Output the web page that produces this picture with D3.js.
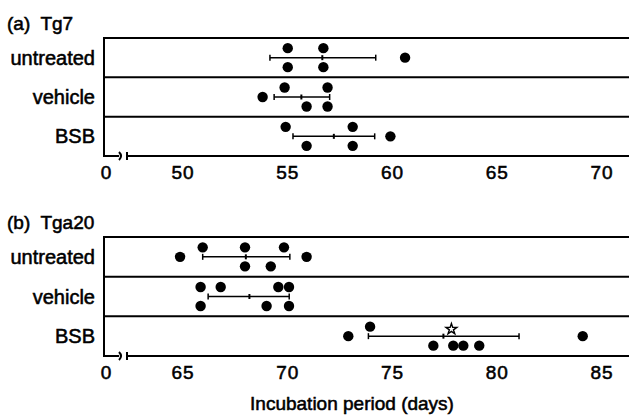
<!DOCTYPE html>
<html lang="en">
<head>
    <meta charset="UTF-8">
    <title>Incubation period</title>
    <style>
        body, html {
            margin: 0;
            background-color: #ffffff;
        }
        svg text {
            font-family: "Liberation Sans", Arial, sans-serif;
            fill: #000;
            stroke: #000;
            stroke-width: 0.55px;
        }
    </style>
    <script src="https://d3js.org/d3.v7.min.js"></script>
</head>
<body>
    <div id="chart"></div>
    <script>
        // categories
        const groups = ["untreated", "vehicle", "BSB"];

        // (a) Tg7 incubation periods, days
        const tg7Untreated = [55.0, 55.0, 56.7, 56.7, 60.6];
        const tg7Vehicle = [53.8, 54.85, 55.9, 56.9, 56.9];
        const tg7BSB = [54.9, 55.9, 58.1, 58.1, 59.9];
        const tg7Mean = [56.65, 55.65, 57.2];
        const tg7Low = [54.15, 54.35, 55.25];
        const tg7High = [59.2, 57.0, 59.15];
        const tg7Star = [false, false, false];
        const tg7Ticks = [50, 55, 60, 65, 70];

        // (b) Tga20 incubation periods, days
        const tga20Untreated = [64.86, 65.94, 67.96, 67.96, 69.19, 69.82, 70.9];
        const tga20Vehicle = [65.84, 65.84, 66.8, 68.99, 69.55, 70.06, 70.06];
        const tga20BSB = [72.89, 73.93, 76.95, 77.9, 78.38, 79.14, 84.08];
        const tga20Mean = [68.0, 68.17, 77.43];
        const tga20Low = [65.94, 66.2, 73.85];
        const tga20High = [70.1, 70.07, 81.04];
        const tga20Star = [false, false, true];
        const tga20Ticks = [65, 70, 75, 80, 85];

        const width = 629, height = 417;
        const left = 104, right = 629;
        const r = 5.2, lane = 9.5;

        const svg = d3.select("#chart").append("svg")
            .attr("width", width)
            .attr("height", height);

        function drawPanel(opt) {
            const g = svg.append("g");
            const x = d3.scaleLinear().domain(opt.domain).range([183, 602]);
            const y = d3.scaleBand().domain(groups).range([opt.top, opt.bottom]);

            g.append("text")
                .attr("x", 7)
                .attr("y", opt.top - 8)
                .style("font-size", "19px")
                .style("white-space", "pre")
                .text(opt.title);

            // frame: top line, row separators, left edge
            const rules = [opt.top].concat(groups.slice(1).map(d => y(d)));
            g.selectAll(".rule").data(rules).enter().append("line")
                .attr("x1", left).attr("x2", right)
                .attr("y1", d => d).attr("y2", d => d)
                .attr("stroke", "#000").attr("stroke-width", 2);
            g.append("line")
                .attr("x1", left).attr("x2", left)
                .attr("y1", opt.top - 1).attr("y2", opt.bottom + 1)
                .attr("stroke", "#000").attr("stroke-width", 2);

            // broken axis
            g.append("line")
                .attr("x1", left - 1).attr("x2", 119)
                .attr("y1", opt.bottom).attr("y2", opt.bottom)
                .attr("stroke", "#000").attr("stroke-width", 2);
            g.append("path")
                .attr("d", `M119,${opt.bottom - 4} Q123,${opt.bottom} 119,${opt.bottom + 4}`)
                .attr("fill", "none").attr("stroke", "#000").attr("stroke-width", 2);
            g.append("line")
                .attr("x1", 127).attr("x2", 127)
                .attr("y1", opt.bottom - 4).attr("y2", opt.bottom + 4)
                .attr("stroke", "#000").attr("stroke-width", 2);
            g.append("line")
                .attr("x1", 127).attr("x2", right)
                .attr("y1", opt.bottom).attr("y2", opt.bottom)
                .attr("stroke", "#000").attr("stroke-width", 2);

            // tick labels
            g.append("text")
                .attr("x", 106).attr("y", opt.bottom + 23)
                .attr("text-anchor", "middle")
                .style("font-size", "19px")
                .text("0");
            g.selectAll(".tick").data(opt.ticks).enter().append("text")
                .attr("x", d => x(d)).attr("y", opt.bottom + 23)
                .attr("text-anchor", "middle")
                .style("font-size", "19px")
                .style("letter-spacing", "1px")
                .text(d => d);

            // category labels
            g.selectAll(".cat").data(groups).enter().append("text")
                .attr("x", 95)
                .attr("y", d => y(d) + y.bandwidth() / 2 + 7)
                .attr("text-anchor", "end")
                .style("font-size", "20px")
                .text(d => d);

            groups.forEach((grp, i) => {
                const cy = y(grp) + y.bandwidth() / 2;
                const lo = x(opt.low[i]), hi = x(opt.high[i]), m = x(opt.mean[i]);

                // error bar with caps and mean mark
                g.append("line")
                    .attr("x1", lo).attr("x2", hi).attr("y1", cy).attr("y2", cy)
                    .attr("stroke", "#000").attr("stroke-width", 1.5);
                g.selectAll(null).data([lo, hi]).enter().append("line")
                    .attr("x1", d => d).attr("x2", d => d)
                    .attr("y1", cy - 3).attr("y2", cy + 3)
                    .attr("stroke", "#000").attr("stroke-width", 1.5);
                g.append("line")
                    .attr("x1", m).attr("x2", m).attr("y1", cy - 2.5).attr("y2", cy + 2.5)
                    .attr("stroke", "#000").attr("stroke-width", 2);

                const starX = m + 8;
                if (opt.star[i]) {
                    g.append("path")
                        .attr("d", d3.symbol(d3.symbolStar, 36)())
                        .attr("transform", `translate(${starX},${cy - 7})`)
                        .attr("fill", "#fff").attr("stroke", "#000").attr("stroke-width", 1.4);
                }

                // dots: outside the bar sit on it, inside alternate above/below
                const vals = opt.values[i].slice().sort(d3.ascending);
                let k = 0;
                const pts = vals.map(v => {
                    const px = x(v);
                    let off = 0;
                    if (px >= lo - 9 && px <= hi + 9) {
                        if (opt.star[i] && Math.abs(px - starX) < 32) off = lane;
                        else off = (k++ % 2 === 0) ? -lane : lane;
                    }
                    return { px, cy: cy + off };
                });
                g.selectAll(null).data(pts).enter().append("circle")
                    .attr("cx", d => d.px).attr("cy", d => d.cy).attr("r", r)
                    .attr("fill", "#000");
            });
        }

        drawPanel({
            title: "(a)  Tg7", top: 38, bottom: 156, domain: [50, 70], ticks: tg7Ticks,
            values: [tg7Untreated, tg7Vehicle, tg7BSB],
            mean: tg7Mean, low: tg7Low, high: tg7High, star: tg7Star
        });
        drawPanel({
            title: "(b)  Tga20", top: 237, bottom: 356, domain: [65, 85], ticks: tga20Ticks,
            values: [tga20Untreated, tga20Vehicle, tga20BSB],
            mean: tga20Mean, low: tga20Low, high: tga20High, star: tga20Star
        });

        svg.append("text")
            .attr("x", 352).attr("y", 410)
            .attr("text-anchor", "middle")
            .style("font-size", "19px")
            .text("Incubation period (days)");
    </script>
</body>
</html>
